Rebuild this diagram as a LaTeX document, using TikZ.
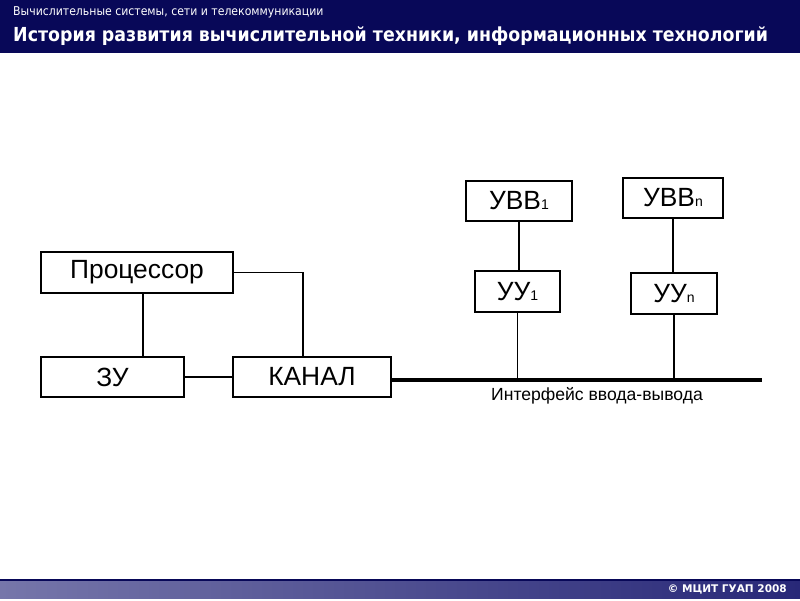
\documentclass[tikz,border=0pt]{standalone}
\usepackage{fontspec}
\setmainfont{Liberation Sans}
\newfontfamily\hdfont[FakeStretch=0.9]{DejaVu Sans}
\newfontfamily\footfont{DejaVu Sans}
\usepackage{tikz}
\usetikzlibrary{positioning, calc}
\definecolor{slidenavy}{RGB}{8,8,88}
\definecolor{footlight}{RGB}{118,118,170}
\definecolor{footdark}{RGB}{40,40,120}

\begin{document}
\begin{tikzpicture}[
  x=0.02cm, y=-0.02cm,
  every node/.style={font=\fontsize{15}{18}\selectfont},
  blk/.style={draw, line width=1.1pt, inner sep=0pt},
  wire/.style={line width=0.9pt},
  bus/.style={line width=2.6pt}
]
\useasboundingbox (0,0) rectangle (800,600);
% header
\fill[slidenavy] (0,0) rectangle (800,53);
\node[anchor=west, text=white, font=\hdfont\fontsize{6.9}{8}\selectfont] (sub) at (7,12) {Вычислительные системы, сети и телекоммуникации};
\node[anchor=west, text=white, font=\hdfont\bfseries\fontsize{11}{13}\selectfont] (title) at (7,36) {История развития вычислительной техники, информационных технологий};
% footer
\shade[left color=footlight, right color=footdark] (0,580) rectangle (800,598);
\draw[slidenavy, line width=0.6pt] (0,580) -- (800,580);
\node[anchor=east, text=white, font=\footfont\bfseries\fontsize{6}{7}\selectfont] (copy) at (793,589) {© МЦИТ ГУАП 2008};

% blocks: (name, centre, width, height, text)
\def\blk#1#2#3#4#5{%
  \node[blk, minimum width=#3*0.02cm, minimum height=#4*0.02cm] (#1) at (#2) {#5};
}
\def\sub#1{{\fontsize{8}{8}\selectfont #1}}
\blk{proc}{137,272.5}{192}{41}{Процессор}
\blk{zu}{112.5,377}{143}{40}{ЗУ}
\blk{kanal}{312,377}{158}{40}{КАНАЛ}
\blk{uvv1}{519,201}{106}{40}{УВВ\sub{1}}
\blk{uvvn}{673,198}{100}{40}{УВВ\sub{n}}
\blk{uu1}{517.5,291.5}{85}{41}{УУ\sub{1}}
\blk{uun}{674,293.5}{86}{41}{УУ\sub{n}}

% connections
\draw[wire] ([xshift=6*0.02cm]proc.south) -- ([xshift=6*0.02cm]proc.south |- zu.north);
\draw[wire] (proc.east) -| ([xshift=-9*0.02cm]kanal.north);
\draw[wire] (zu.east) -- (kanal.west);
\draw[wire] (uvv1.south) -- (uvv1.south |- uu1.north);
\draw[wire] (uvvn.south) -- (uvvn.south |- uun.north);

% interface bus
\coordinate (busR) at (762,380);
\draw[bus] (kanal.east |- busR) -- (busR);
\draw[wire] (uu1.south) -- (uu1.south |- busR);
\draw[wire] (uun.south) -- (uun.south |- busR);
\node[font=\fontsize{10}{12}\selectfont] (iface) at (597,396) {Интерфейс ввода-вывода};
\end{tikzpicture}
\end{document}
